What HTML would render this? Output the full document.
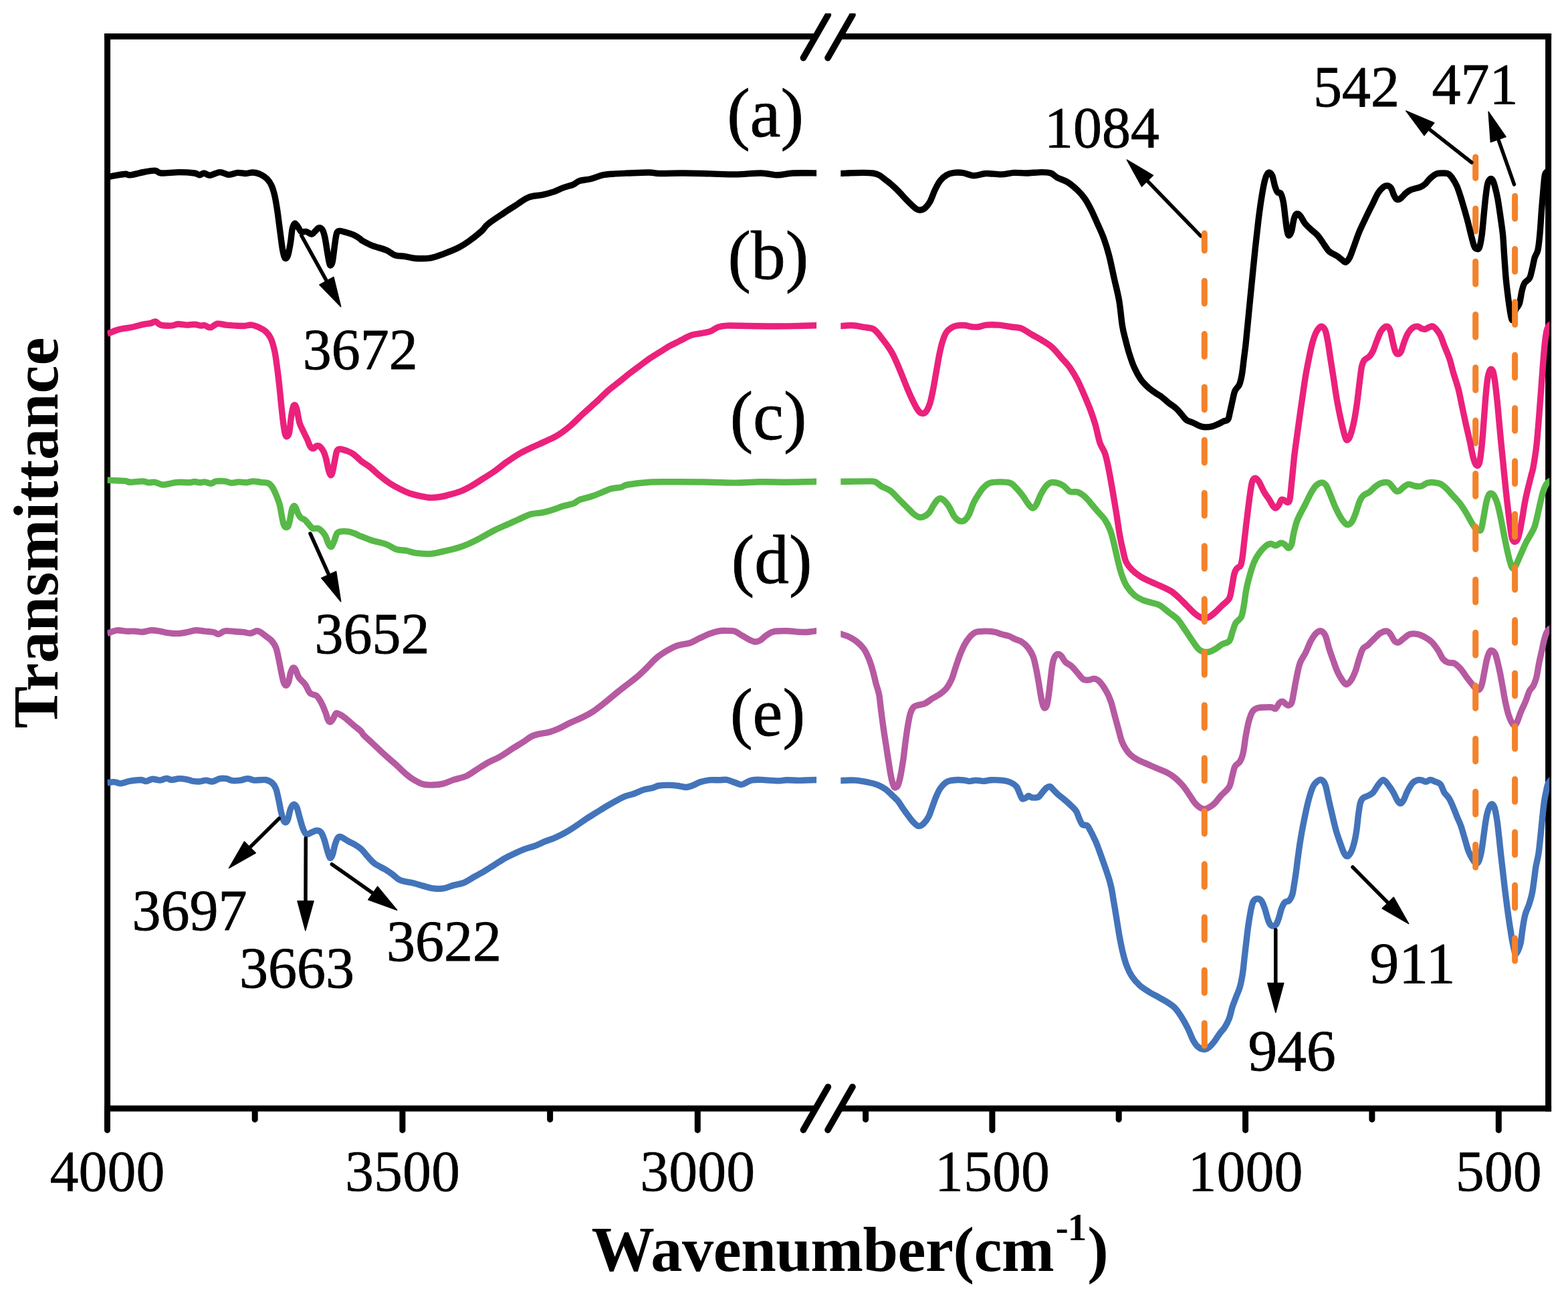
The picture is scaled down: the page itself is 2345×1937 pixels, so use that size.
<!DOCTYPE html>
<html lang="en"><head><meta charset="utf-8"><title>FTIR spectra</title>
<style>html,body{margin:0;padding:0;background:#fff;}body{width:2345px;height:1937px;overflow:hidden;}svg{display:block;}text{font-family:"Liberation Serif","Times New Roman",serif;fill:#000;stroke:#000;stroke-width:0.8px;stroke-linejoin:round;}.tk{text-anchor:middle;stroke-width:0.5px;}.an{text-anchor:middle;}.ti{font-weight:bold;text-anchor:middle;}</style></head><body>
<svg xmlns="http://www.w3.org/2000/svg" width="2345" height="1937" viewBox="0 0 2345 1937">
<defs><clipPath id="cl"><rect x="160.5" y="50" width="1060.6" height="1612"/></clipPath><clipPath id="cr"><rect x="1257.3" y="50" width="1059.9" height="1612"/></clipPath></defs>
<rect x="0" y="0" width="2345" height="1937" fill="#ffffff"/>
<g stroke="#000" stroke-width="9.0" fill="none">
<line x1="160.6" y1="49.9" x2="160.6" y2="1662.4"/>
<line x1="2315.6" y1="49.9" x2="2315.6" y2="1662.4"/>
<line x1="156.1" y1="54.4" x2="1218" y2="54.4"/>
<line x1="1258" y1="54.4" x2="2320.1" y2="54.4"/>
<line x1="156.1" y1="1657.9" x2="1218" y2="1657.9"/>
<line x1="1258" y1="1657.9" x2="2320.1" y2="1657.9"/>
</g>
<g stroke="#000" stroke-width="9.6" stroke-linecap="round" fill="none">
<line x1="1201.4" y1="86.6" x2="1238.4" y2="22.2"/>
<line x1="1238.0" y1="86.6" x2="1275.0" y2="22.2"/>
<line x1="1201.4" y1="1690.1" x2="1238.4" y2="1625.7"/>
<line x1="1238.0" y1="1690.1" x2="1275.0" y2="1625.7"/>
</g>
<rect x="1100" y="0" width="300" height="20" fill="#fff"/>
<g stroke="#000" stroke-width="9" stroke-linecap="round" fill="none">
<line x1="160.5" y1="1659.4" x2="160.5" y2="1690.4"/>
<line x1="601.9" y1="1659.4" x2="601.9" y2="1690.4"/>
<line x1="1043.3" y1="1659.4" x2="1043.3" y2="1690.4"/>
<line x1="1483.9" y1="1659.4" x2="1483.9" y2="1690.4"/>
<line x1="1862.6" y1="1659.4" x2="1862.6" y2="1690.4"/>
<line x1="2241.3" y1="1659.4" x2="2241.3" y2="1690.4"/>
<line x1="381.2" y1="1659.4" x2="381.2" y2="1674.4"/>
<line x1="822.6" y1="1659.4" x2="822.6" y2="1674.4"/>
<line x1="1294.6" y1="1659.4" x2="1294.6" y2="1674.4"/>
<line x1="1673.2" y1="1659.4" x2="1673.2" y2="1674.4"/>
<line x1="2051.9" y1="1659.4" x2="2051.9" y2="1674.4"/>
</g>
<g fill="none" stroke-linejoin="round" stroke-linecap="butt" stroke-width="9.4" stroke="#4374ba">
<path clip-path="url(#cl)" d="M160.5,1170.9C162.2,1170.7 167.6,1169.4 170.9,1169.6C174.3,1169.7 176.6,1172.1 180.4,1171.9C184.3,1171.7 188.7,1169.3 193.8,1168.4C198.8,1167.6 206.8,1166.5 210.9,1166.5C215.0,1166.6 215.7,1168.9 218.5,1168.6C221.4,1168.4 224.5,1165.5 228.0,1165.2C231.5,1165.0 235.9,1167.3 239.4,1167.1C242.9,1166.9 246.1,1164.3 249.0,1164.3C251.8,1164.2 253.4,1166.5 256.6,1166.5C259.7,1166.6 264.2,1164.8 268.0,1164.6C271.8,1164.5 276.2,1165.2 279.4,1165.8C282.6,1166.3 283.8,1167.5 287.0,1168.1C290.2,1168.6 294.9,1169.2 298.4,1169.0C301.9,1168.9 304.8,1167.1 307.9,1167.1C311.1,1167.1 314.0,1169.4 317.5,1169.0C320.9,1168.6 325.4,1165.4 328.9,1164.6C332.4,1163.9 335.2,1164.1 338.4,1164.6C341.6,1165.1 344.4,1167.3 347.9,1167.7C351.4,1168.1 355.5,1167.6 359.3,1167.1C363.1,1166.6 367.3,1164.6 370.7,1164.6C374.2,1164.6 375.8,1166.8 380.3,1167.1C384.7,1167.4 392.9,1165.9 397.4,1166.5C401.8,1167.2 404.4,1168.8 406.9,1170.9C409.4,1173.1 411.0,1175.5 412.6,1179.5C414.2,1183.4 415.1,1189.0 416.4,1194.7C417.7,1200.4 419.0,1208.3 420.2,1213.7C421.5,1219.1 422.8,1224.4 424.0,1227.1C425.2,1229.7 426.3,1230.2 427.5,1229.9C428.6,1229.6 429.5,1228.5 430.7,1225.1C431.9,1221.8 433.1,1213.6 434.5,1209.9C435.9,1206.3 437.7,1203.6 439.2,1203.3C440.8,1202.9 442.4,1204.4 444.0,1208.0C445.6,1211.7 447.2,1219.8 448.8,1225.1C450.3,1230.5 451.9,1236.6 453.5,1240.4C455.1,1244.2 456.2,1247.2 458.3,1248.0C460.3,1248.8 463.4,1246.1 465.9,1245.1C468.4,1244.2 471.1,1242.3 473.5,1242.3C475.9,1242.3 478.3,1242.9 480.2,1245.1C482.1,1247.3 483.3,1251.0 484.9,1255.6C486.5,1260.2 488.2,1268.1 489.7,1272.7C491.1,1277.3 492.2,1282.2 493.5,1283.2C494.8,1284.1 496.0,1281.8 497.3,1278.4C498.6,1275.1 499.8,1267.3 501.1,1263.2C502.4,1259.1 503.5,1255.6 504.9,1253.7C506.3,1251.8 507.0,1251.0 509.7,1251.8C512.4,1252.6 517.6,1256.5 521.1,1258.4C524.6,1260.4 527.4,1261.3 530.6,1263.2C533.8,1265.1 536.7,1266.7 540.1,1269.9C543.5,1273.0 547.5,1278.6 550.9,1282.2C554.3,1285.9 556.3,1288.7 560.4,1291.8C564.6,1294.8 571.2,1297.6 575.7,1300.3C580.1,1303.0 583.3,1305.2 587.1,1307.9C590.9,1310.6 593.7,1314.4 598.5,1316.5C603.3,1318.6 609.9,1318.9 615.6,1320.3C621.3,1321.7 627.4,1323.6 632.8,1325.1C638.2,1326.5 642.9,1328.2 648.0,1328.9C653.1,1329.5 658.1,1329.7 663.2,1328.9C668.3,1328.1 673.4,1325.5 678.4,1324.1C683.5,1322.7 688.6,1322.4 693.7,1320.3C698.7,1318.2 703.8,1314.6 708.9,1311.7C714.0,1308.9 719.0,1306.2 724.1,1303.2C729.2,1300.2 734.2,1296.8 739.3,1293.7C744.4,1290.5 749.5,1287.0 754.5,1284.1C759.6,1281.3 764.7,1278.9 769.8,1276.5C774.8,1274.1 779.9,1271.8 785.0,1269.9C790.1,1268.0 795.1,1267.0 800.2,1265.1C805.3,1263.2 810.4,1260.5 815.4,1258.4C820.5,1256.4 825.6,1255.0 830.7,1252.7C835.7,1250.5 840.8,1248.0 845.9,1245.1C851.0,1242.3 856.0,1238.9 861.1,1235.6C866.2,1232.3 871.3,1228.5 876.3,1225.1C881.4,1221.8 886.5,1218.8 891.6,1215.6C896.6,1212.5 901.8,1209.1 906.8,1206.1C911.8,1203.1 916.8,1200.3 921.4,1197.8C926.1,1195.3 930.3,1192.9 934.7,1191.2C939.2,1189.4 943.6,1188.9 948.1,1187.3C952.5,1185.8 956.9,1183.1 961.4,1181.6C965.8,1180.2 970.6,1179.9 974.7,1178.8C978.8,1177.7 981.7,1175.7 986.1,1175.0C990.6,1174.2 996.6,1174.3 1001.3,1174.4C1006.1,1174.5 1010.5,1175.0 1014.7,1175.5C1018.8,1176.1 1022.6,1177.5 1026.1,1177.5C1029.6,1177.4 1032.1,1176.2 1035.6,1175.0C1039.1,1173.7 1042.9,1171.2 1047.0,1169.8C1051.1,1168.5 1055.6,1167.3 1060.3,1166.8C1065.1,1166.3 1071.1,1166.9 1075.6,1166.8C1080.0,1166.7 1083.2,1165.8 1087.0,1166.4C1090.8,1167.0 1094.7,1169.0 1098.4,1170.2C1102.0,1171.4 1105.7,1173.7 1108.9,1173.6C1112.0,1173.6 1114.7,1171.0 1117.4,1169.8C1120.1,1168.7 1121.5,1167.4 1125.0,1166.8C1128.5,1166.2 1132.0,1166.2 1138.4,1166.4C1144.7,1166.6 1156.7,1167.9 1163.1,1167.9C1169.4,1168.0 1171.0,1166.9 1176.4,1166.8C1181.8,1166.7 1187.2,1167.4 1195.4,1167.4C1203.7,1167.3 1220.8,1166.6 1225.9,1166.4"/>
<path clip-path="url(#cr)" d="M1253.8,1167.7C1257.9,1167.6 1271.2,1166.7 1278.5,1167.1C1285.8,1167.5 1291.9,1168.8 1297.6,1170.0C1303.3,1171.1 1308.4,1172.4 1312.8,1174.1C1317.2,1175.9 1320.7,1178.0 1324.2,1180.4C1327.7,1182.9 1330.6,1186.0 1333.7,1189.0C1336.9,1192.0 1340.4,1195.0 1343.2,1198.5C1346.1,1202.0 1348.3,1206.3 1350.9,1209.9C1353.4,1213.6 1355.9,1217.1 1358.5,1220.4C1361.0,1223.7 1363.5,1227.4 1366.1,1229.9C1368.6,1232.4 1371.2,1235.3 1373.7,1235.6C1376.2,1235.9 1378.8,1234.2 1381.3,1231.8C1383.8,1229.4 1386.7,1225.6 1388.9,1221.3C1391.1,1217.1 1392.7,1211.2 1394.6,1206.1C1396.5,1201.0 1398.4,1195.3 1400.3,1190.9C1402.2,1186.5 1403.8,1182.8 1406.0,1179.5C1408.3,1176.1 1411.1,1172.9 1413.7,1170.9C1416.2,1168.9 1418.1,1168.4 1421.3,1167.7C1424.4,1166.9 1429.2,1166.6 1432.7,1166.5C1436.2,1166.4 1439.3,1166.8 1442.2,1167.1C1445.1,1167.5 1447.0,1168.6 1449.8,1168.6C1452.7,1168.6 1455.8,1167.1 1459.3,1167.1C1462.8,1167.1 1466.9,1168.5 1470.7,1168.4C1474.5,1168.4 1477.7,1166.9 1482.2,1166.7C1486.6,1166.5 1492.6,1166.6 1497.4,1167.1C1502.1,1167.6 1506.9,1168.4 1510.7,1170.0C1514.5,1171.5 1517.8,1173.8 1520.2,1176.6C1522.6,1179.5 1523.5,1184.1 1525.0,1187.1C1526.4,1190.1 1527.4,1193.6 1528.8,1194.7C1530.2,1195.8 1532.0,1194.4 1533.5,1193.7C1535.1,1193.1 1536.7,1190.7 1538.3,1190.5C1539.9,1190.4 1540.7,1192.5 1543.1,1192.8C1545.4,1193.1 1550.0,1193.5 1552.6,1192.4C1555.1,1191.3 1556.2,1188.5 1558.3,1186.1C1560.3,1183.8 1562.9,1180.1 1564.9,1178.5C1567.0,1176.9 1568.9,1176.1 1570.6,1176.6C1572.4,1177.1 1573.3,1179.3 1575.4,1181.4C1577.5,1183.4 1580.2,1186.5 1583.0,1189.0C1585.9,1191.5 1589.4,1193.9 1592.5,1196.6C1595.7,1199.3 1599.2,1202.3 1602.0,1205.2C1604.9,1208.0 1607.6,1210.4 1609.7,1213.7C1611.7,1217.1 1612.8,1221.8 1614.4,1225.1C1616.0,1228.5 1617.3,1232.1 1619.2,1233.7C1621.1,1235.3 1623.9,1233.2 1625.8,1234.7C1627.7,1236.1 1628.8,1239.1 1630.6,1242.3C1632.3,1245.4 1634.4,1249.6 1636.3,1253.7C1638.2,1257.8 1638.1,1256.4 1642.0,1267.0C1645.9,1277.7 1655.6,1304.4 1659.5,1317.6C1663.4,1330.8 1663.5,1336.6 1665.2,1346.1C1666.9,1355.6 1668.4,1365.1 1670.0,1374.7C1671.5,1384.2 1673.1,1394.6 1674.7,1403.2C1676.3,1411.8 1677.7,1419.1 1679.5,1426.0C1681.2,1433.0 1683.0,1439.4 1685.2,1445.1C1687.4,1450.8 1689.6,1455.5 1692.8,1460.3C1696.0,1465.1 1700.1,1469.8 1704.2,1473.6C1708.3,1477.4 1712.8,1480.1 1717.5,1483.1C1722.3,1486.1 1728.0,1489.0 1732.8,1491.7C1737.5,1494.4 1742.0,1496.6 1746.1,1499.3C1750.2,1502.0 1754.0,1504.2 1757.5,1507.9C1761.0,1511.5 1763.8,1516.1 1767.0,1521.2C1770.2,1526.3 1773.7,1532.6 1776.5,1538.3C1779.4,1544.0 1781.6,1550.8 1784.1,1555.4C1786.7,1560.0 1788.9,1563.5 1791.8,1565.9C1794.6,1568.3 1798.4,1569.7 1801.3,1569.7C1804.1,1569.7 1806.3,1568.0 1808.9,1565.9C1811.4,1563.8 1814.0,1560.7 1816.5,1557.3C1819.0,1554.0 1821.6,1549.4 1824.1,1545.9C1826.6,1542.4 1829.3,1540.2 1831.7,1536.4C1834.1,1532.6 1836.5,1528.2 1838.4,1523.1C1840.3,1518.0 1841.4,1511.4 1843.1,1506.0C1844.9,1500.6 1846.9,1495.8 1848.8,1490.7C1850.7,1485.7 1853.0,1481.2 1854.5,1475.5C1856.1,1469.8 1857.2,1463.8 1858.4,1456.5C1859.5,1449.2 1860.3,1440.0 1861.2,1431.8C1862.2,1423.5 1863.1,1414.9 1864.1,1407.0C1865.0,1399.1 1865.8,1391.8 1866.9,1384.2C1868.0,1376.6 1869.5,1367.4 1870.7,1361.3C1872.0,1355.3 1872.8,1350.9 1874.5,1348.0C1876.3,1345.2 1879.1,1344.2 1881.2,1344.2C1883.3,1344.2 1885.2,1345.5 1886.9,1348.0C1888.6,1350.6 1890.2,1355.3 1891.7,1359.4C1893.1,1363.6 1894.2,1369.0 1895.5,1372.8C1896.7,1376.6 1897.8,1380.2 1899.3,1382.3C1900.7,1384.3 1902.4,1385.1 1904.0,1385.1C1905.6,1385.1 1907.4,1384.3 1908.8,1382.3C1910.2,1380.2 1911.3,1376.6 1912.6,1372.8C1913.9,1369.0 1915.0,1363.2 1916.4,1359.4C1917.8,1355.6 1919.2,1352.0 1921.2,1349.9C1923.1,1347.9 1925.9,1349.0 1927.8,1347.1C1929.7,1345.2 1931.3,1342.5 1932.6,1338.5C1933.8,1334.5 1934.5,1329.0 1935.4,1323.3C1936.4,1317.6 1937.3,1311.3 1938.3,1304.3C1939.3,1297.2 1940.2,1288.9 1941.3,1281.0C1942.4,1273.1 1943.3,1265.7 1944.8,1256.9C1946.2,1248.1 1948.1,1237.9 1950.0,1228.4C1951.9,1218.9 1954.0,1208.4 1956.2,1199.8C1958.4,1191.2 1961.2,1182.1 1963.4,1177.0C1965.7,1171.9 1967.6,1170.8 1969.7,1169.0C1971.8,1167.2 1974.2,1165.7 1976.3,1166.5C1978.4,1167.3 1980.3,1169.3 1982.1,1174.1C1983.9,1178.8 1985.1,1187.4 1986.9,1195.0C1988.6,1202.6 1990.7,1211.8 1992.6,1219.7C1994.5,1227.7 1996.4,1236.1 1998.3,1242.8C2000.2,1249.5 2002.1,1254.5 2004.0,1259.9C2005.9,1265.3 2008.0,1271.7 2009.7,1275.1C2011.4,1278.6 2012.7,1280.9 2014.5,1280.9C2016.2,1280.9 2018.4,1278.3 2020.2,1275.1C2021.9,1272.0 2023.5,1267.2 2024.9,1261.8C2026.4,1256.4 2027.6,1250.1 2028.7,1242.8C2029.8,1235.5 2030.6,1225.0 2031.6,1218.1C2032.5,1211.1 2033.3,1204.9 2034.4,1200.9C2035.5,1196.9 2036.3,1195.8 2038.2,1194.0C2040.1,1192.3 2043.3,1191.7 2045.9,1190.2C2048.4,1188.8 2050.9,1188.2 2053.5,1185.5C2056.0,1182.8 2058.5,1177.2 2061.1,1174.1C2063.6,1170.9 2066.2,1166.5 2068.7,1166.5C2071.2,1166.5 2073.8,1170.9 2076.3,1174.1C2078.8,1177.2 2081.7,1181.7 2083.9,1185.5C2086.1,1189.3 2087.9,1194.2 2089.6,1196.9C2091.4,1199.6 2092.8,1201.7 2094.4,1201.7C2096.0,1201.7 2097.4,1199.9 2099.1,1196.9C2100.9,1193.9 2102.6,1187.9 2104.8,1183.6C2107.1,1179.3 2109.9,1174.0 2112.5,1171.2C2115.0,1168.4 2117.9,1167.6 2120.1,1166.8C2122.3,1166.1 2123.7,1166.4 2125.8,1166.8C2127.8,1167.2 2130.2,1169.4 2132.4,1169.3C2134.7,1169.2 2136.7,1166.5 2139.1,1166.5C2141.5,1166.5 2144.2,1168.2 2146.7,1169.3C2149.2,1170.4 2152.1,1170.4 2154.3,1173.1C2156.5,1175.8 2157.8,1181.8 2160.0,1185.5C2162.3,1189.1 2165.1,1190.6 2167.6,1195.0C2170.2,1199.4 2173.4,1207.6 2175.3,1212.1C2177.2,1216.6 2177.5,1218.0 2179.1,1221.9C2180.6,1225.7 2182.9,1229.8 2184.8,1235.2C2186.7,1240.6 2188.6,1247.9 2190.5,1254.2C2192.4,1260.6 2194.3,1268.2 2196.2,1273.2C2198.1,1278.3 2200.0,1281.6 2201.9,1284.7C2203.8,1287.7 2206.0,1290.7 2207.6,1291.3C2209.2,1292.0 2210.1,1291.2 2211.4,1288.5C2212.7,1285.8 2214.1,1280.5 2215.2,1275.1C2216.3,1269.8 2217.1,1262.8 2218.1,1256.1C2219.0,1249.5 2220.0,1241.5 2220.9,1235.2C2221.9,1228.8 2222.7,1222.8 2223.8,1218.1C2224.9,1213.3 2226.3,1209.2 2227.6,1206.6C2228.9,1204.1 2230.1,1202.5 2231.4,1202.8C2232.7,1203.2 2233.9,1204.4 2235.2,1208.5C2236.5,1212.7 2237.9,1220.3 2239.0,1227.6C2240.1,1234.9 2240.9,1243.7 2241.9,1252.3C2242.8,1260.9 2243.8,1270.4 2244.7,1279.0C2245.7,1287.5 2246.6,1295.4 2247.6,1303.7C2248.5,1311.9 2249.5,1320.5 2250.4,1328.4C2251.4,1336.4 2252.3,1344.0 2253.3,1351.3C2254.2,1358.6 2255.2,1365.5 2256.1,1372.2C2257.1,1378.9 2258.0,1385.2 2259.0,1391.2C2259.9,1397.3 2260.9,1403.3 2261.8,1408.4C2262.8,1413.4 2263.9,1418.5 2264.7,1421.7C2265.5,1424.8 2265.6,1427.4 2266.6,1427.4C2267.5,1427.4 2269.1,1424.5 2270.4,1421.7C2271.7,1418.8 2273.1,1415.6 2274.2,1410.3C2275.3,1404.9 2276.0,1396.3 2277.1,1389.3C2278.2,1382.3 2279.3,1374.4 2280.9,1368.4C2282.5,1362.4 2284.8,1358.6 2286.6,1353.2C2288.3,1347.8 2290.1,1342.1 2291.3,1336.0C2292.6,1330.0 2293.2,1323.7 2294.2,1317.0C2295.1,1310.4 2295.9,1302.7 2297.0,1296.1C2298.2,1289.4 2299.7,1284.3 2300.9,1277.1C2302.0,1269.8 2302.8,1261.2 2303.7,1252.3C2304.7,1243.4 2305.6,1232.6 2306.6,1223.8C2307.5,1214.9 2308.5,1205.7 2309.4,1199.0C2310.4,1192.4 2311.3,1188.2 2312.3,1183.8C2313.2,1179.4 2313.7,1175.6 2315.1,1172.4C2316.6,1169.2 2319.9,1166.0 2320.8,1164.8"/>
</g>
<g fill="none" stroke-linejoin="round" stroke-linecap="butt" stroke-width="9.4" stroke="#b65aa2">
<path clip-path="url(#cl)" d="M160.5,947.6C162.8,946.8 170.1,943.4 174.7,942.8C179.3,942.2 183.6,943.9 188.1,944.1C192.5,944.4 197.3,944.0 201.4,944.1C205.5,944.3 208.7,945.5 212.8,945.3C216.9,945.1 221.7,943.0 226.1,942.8C230.6,942.6 235.3,943.5 239.4,944.1C243.6,944.8 246.4,946.1 250.9,946.6C255.3,947.2 261.3,947.7 266.1,947.6C270.8,947.4 275.0,946.5 279.4,945.7C283.8,944.9 288.3,943.1 292.7,942.8C297.2,942.6 301.6,943.7 306.0,944.1C310.5,944.6 315.9,944.9 319.4,945.7C322.9,946.4 324.1,948.8 327.0,948.5C329.8,948.2 332.4,944.4 336.5,943.8C340.6,943.1 347.3,944.5 351.7,944.7C356.2,945.0 359.3,944.9 363.1,945.3C366.9,945.7 371.1,947.4 374.5,947.2C378.0,946.9 381.5,944.0 384.1,943.8C386.6,943.5 387.6,944.4 389.8,945.7C392.0,946.9 394.7,949.3 397.4,951.4C400.1,953.4 403.4,955.2 405.9,958.0C408.5,960.9 410.9,964.2 412.6,968.5C414.4,972.8 415.1,978.0 416.4,983.7C417.7,989.4 419.0,996.7 420.2,1002.8C421.5,1008.8 422.8,1016.1 424.0,1019.9C425.2,1023.6 426.2,1025.2 427.5,1025.2C428.7,1025.2 430.5,1023.0 431.6,1019.9C432.8,1016.8 433.4,1010.1 434.5,1006.6C435.6,1003.1 437.0,999.7 438.3,999.0C439.6,998.2 440.7,999.4 442.1,1001.8C443.5,1004.2 444.5,1009.6 446.9,1013.2C449.2,1016.9 453.5,1019.7 456.4,1023.7C459.2,1027.7 461.1,1034.2 464.0,1037.0C466.8,1039.9 470.6,1038.3 473.5,1040.8C476.4,1043.4 478.9,1048.1 481.1,1052.2C483.3,1056.4 485.2,1061.4 486.8,1065.6C488.4,1069.7 489.4,1074.6 490.6,1077.0C491.9,1079.4 493.2,1080.1 494.4,1079.8C495.7,1079.5 497.0,1077.1 498.2,1075.1C499.5,1073.0 500.8,1068.7 502.0,1067.5C503.3,1066.2 503.6,1066.5 505.9,1067.5C508.1,1068.4 511.6,1070.3 515.4,1073.2C519.2,1076.0 524.6,1081.1 528.7,1084.6C532.8,1088.1 537.7,1091.7 540.1,1094.1C542.5,1096.5 540.2,1095.7 543.3,1098.9C546.4,1102.0 553.2,1108.1 558.5,1113.1C563.9,1118.2 570.3,1124.4 575.7,1129.3C581.1,1134.2 585.8,1138.0 590.9,1142.6C596.0,1147.2 601.7,1153.1 606.1,1156.9C610.6,1160.7 613.1,1162.8 617.5,1165.5C622.0,1168.2 627.7,1171.6 632.8,1173.1C637.8,1174.5 642.9,1174.2 648.0,1174.0C653.1,1173.9 658.1,1173.4 663.2,1172.1C668.3,1170.9 672.7,1168.3 678.4,1166.4C684.1,1164.5 691.8,1163.2 697.5,1160.7C703.2,1158.2 707.3,1154.5 712.7,1151.2C718.1,1147.9 723.8,1144.1 729.8,1140.7C735.8,1137.4 742.5,1134.9 748.8,1131.2C755.2,1127.6 762.2,1122.5 767.9,1118.8C773.6,1115.2 778.7,1112.2 783.1,1109.3C787.5,1106.5 790.7,1103.6 794.5,1101.7C798.3,1099.8 801.5,1099.0 805.9,1097.9C810.4,1096.8 816.4,1096.3 821.2,1095.1C825.9,1093.8 829.1,1092.7 834.5,1090.3C839.9,1087.9 847.2,1083.8 853.5,1080.8C859.8,1077.8 866.8,1075.1 872.5,1072.2C878.2,1069.4 882.7,1067.0 887.8,1063.7C892.8,1060.3 897.4,1056.7 903.0,1052.2C908.6,1047.8 916.1,1041.3 921.4,1037.0C926.7,1032.7 929.7,1030.5 934.7,1026.5C939.8,1022.6 946.5,1017.8 951.9,1013.2C957.3,1008.6 962.0,1003.9 967.1,999.0C972.2,994.0 977.2,988.0 982.3,983.7C987.4,979.4 992.5,976.3 997.5,973.3C1002.6,970.3 1007.1,967.6 1012.8,965.7C1018.5,963.7 1026.1,963.7 1031.8,961.8C1037.5,959.9 1041.9,956.6 1047.0,954.2C1052.1,951.9 1057.5,949.3 1062.2,947.6C1067.0,945.8 1071.4,944.5 1075.6,943.8C1079.7,943.1 1083.2,943.3 1087.0,943.4C1090.8,943.5 1094.9,943.1 1098.4,944.1C1101.9,945.2 1104.4,947.5 1107.9,949.5C1111.4,951.5 1115.8,954.4 1119.3,956.1C1122.8,957.9 1126.0,959.6 1128.8,959.9C1131.7,960.3 1133.6,959.6 1136.5,958.0C1139.3,956.5 1142.5,952.6 1146.0,950.4C1149.5,948.2 1152.3,945.8 1157.4,944.7C1162.5,943.6 1170.1,943.7 1176.4,943.8C1182.8,943.9 1190.1,945.0 1195.4,945.3C1200.8,945.5 1203.7,945.7 1208.8,945.3C1213.8,944.9 1223.0,943.4 1225.9,943.0"/>
<path clip-path="url(#cr)" d="M1253.8,947.2C1256.3,948.0 1264.6,950.4 1269.0,952.3C1273.5,954.3 1276.6,956.0 1280.4,959.0C1284.3,962.0 1288.7,966.0 1291.9,970.4C1295.0,974.8 1297.3,980.2 1299.5,985.6C1301.7,991.0 1303.4,996.7 1305.2,1002.8C1306.9,1008.8 1308.4,1015.8 1309.9,1021.8C1311.5,1027.8 1313.4,1032.3 1314.7,1038.9C1316.0,1045.6 1316.4,1053.2 1317.6,1061.8C1318.7,1070.3 1320.1,1081.4 1321.4,1090.3C1322.6,1099.2 1323.9,1106.8 1325.2,1115.0C1326.4,1123.3 1327.7,1131.8 1329.0,1139.8C1330.2,1147.7 1331.5,1156.6 1332.8,1162.6C1334.0,1168.6 1335.5,1173.4 1336.6,1175.9C1337.7,1178.5 1338.3,1178.1 1339.4,1177.8C1340.5,1177.5 1342.0,1177.2 1343.2,1174.0C1344.5,1170.9 1345.8,1165.1 1347.1,1158.8C1348.3,1152.5 1349.7,1143.6 1350.9,1136.0C1352.0,1128.4 1352.6,1121.4 1353.7,1113.1C1354.8,1104.9 1356.2,1094.1 1357.5,1086.5C1358.8,1078.9 1359.9,1072.2 1361.3,1067.5C1362.7,1062.7 1364.3,1060.0 1366.1,1057.9C1367.8,1055.9 1368.9,1056.0 1371.8,1055.1C1374.6,1054.1 1379.4,1054.0 1383.2,1052.2C1387.0,1050.5 1390.8,1047.0 1394.6,1044.6C1398.4,1042.2 1402.6,1040.5 1406.0,1038.0C1409.5,1035.4 1412.7,1033.0 1415.6,1029.4C1418.4,1025.8 1420.9,1021.2 1423.2,1016.1C1425.4,1011.0 1426.8,1005.0 1428.9,999.0C1430.9,992.9 1433.3,985.6 1435.5,979.9C1437.8,974.2 1439.8,969.1 1442.2,964.7C1444.6,960.3 1447.0,956.5 1449.8,953.3C1452.7,950.1 1455.2,947.2 1459.3,945.7C1463.4,944.1 1469.8,944.2 1474.5,944.1C1479.3,944.1 1484.1,944.6 1487.9,945.3C1491.7,946.0 1493.9,947.5 1497.4,948.5C1500.9,949.5 1505.3,950.1 1508.8,951.4C1512.3,952.6 1515.1,954.7 1518.3,956.1C1521.5,957.6 1524.7,957.9 1527.8,959.9C1531.0,962.0 1534.5,964.9 1537.3,968.5C1540.2,972.2 1542.9,976.4 1545.0,981.8C1547.0,987.2 1548.3,994.2 1549.7,1000.9C1551.1,1007.5 1552.3,1014.5 1553.5,1021.8C1554.8,1029.1 1556.2,1038.9 1557.3,1044.6C1558.4,1050.3 1559.2,1053.7 1560.2,1056.0C1561.1,1058.4 1562.1,1059.2 1563.0,1058.9C1564.0,1058.6 1564.9,1057.8 1565.9,1054.1C1566.8,1050.5 1567.8,1044.0 1568.7,1037.0C1569.7,1030.0 1570.6,1019.9 1571.6,1012.3C1572.5,1004.7 1573.3,996.6 1574.5,991.3C1575.6,986.1 1576.8,983.0 1578.3,980.9C1579.7,978.7 1581.4,978.2 1583.0,978.4C1584.6,978.6 1586.0,979.8 1587.8,981.8C1589.5,983.8 1591.1,988.0 1593.5,990.4C1595.9,992.8 1599.0,993.4 1602.0,996.1C1605.1,998.8 1608.5,1003.2 1611.6,1006.6C1614.6,1009.9 1617.3,1014.3 1620.1,1016.1C1623.0,1017.8 1626.0,1017.2 1628.7,1017.0C1631.4,1016.9 1633.8,1014.8 1636.3,1015.1C1638.8,1015.4 1640.8,1015.8 1643.9,1018.9C1647.0,1022.1 1651.8,1029.1 1654.7,1034.2C1657.7,1039.3 1659.3,1043.4 1661.4,1049.4C1663.5,1055.4 1665.2,1063.4 1667.1,1070.3C1669.0,1077.3 1671.1,1084.9 1672.8,1091.3C1674.6,1097.6 1675.8,1103.6 1677.6,1108.4C1679.3,1113.1 1681.1,1116.3 1683.3,1119.8C1685.5,1123.3 1687.7,1126.5 1690.9,1129.3C1694.1,1132.2 1697.9,1134.6 1702.3,1136.9C1706.8,1139.3 1712.5,1141.4 1717.5,1143.6C1722.6,1145.8 1728.0,1148.2 1732.8,1150.3C1737.5,1152.3 1742.0,1153.7 1746.1,1156.0C1750.2,1158.2 1753.7,1160.4 1757.5,1163.6C1761.3,1166.7 1765.4,1170.9 1768.9,1175.0C1772.4,1179.1 1775.6,1184.2 1778.4,1188.3C1781.3,1192.4 1783.5,1196.6 1786.0,1199.7C1788.6,1202.9 1791.1,1205.6 1793.7,1207.3C1796.2,1209.1 1798.7,1210.2 1801.3,1210.2C1803.8,1210.2 1806.3,1208.8 1808.9,1207.3C1811.4,1205.9 1813.6,1204.5 1816.5,1201.6C1819.3,1198.8 1822.4,1194.3 1826.0,1190.2C1829.7,1186.1 1835.5,1182.0 1838.4,1176.9C1841.2,1171.8 1841.7,1164.8 1843.1,1159.8C1844.6,1154.7 1845.0,1149.9 1846.9,1146.5C1848.8,1143.0 1852.5,1142.3 1854.5,1138.8C1856.6,1135.4 1857.9,1131.9 1859.3,1125.5C1860.7,1119.2 1861.7,1108.7 1863.1,1100.8C1864.5,1092.9 1866.1,1084.1 1867.9,1077.9C1869.6,1071.8 1871.4,1066.8 1873.6,1063.7C1875.8,1060.5 1878.0,1059.9 1881.2,1058.9C1884.4,1058.0 1889.1,1058.1 1892.6,1058.0C1896.1,1057.8 1899.6,1057.6 1902.1,1058.0C1904.7,1058.3 1905.9,1061.0 1907.8,1059.9C1909.7,1058.8 1911.8,1053.0 1913.5,1051.3C1915.3,1049.6 1916.7,1049.1 1918.3,1049.4C1919.9,1049.7 1921.6,1052.3 1923.1,1053.2C1924.5,1054.2 1925.4,1055.4 1926.9,1055.1C1928.3,1054.8 1930.3,1054.2 1931.6,1051.3C1932.9,1048.4 1933.4,1043.7 1934.5,1038.0C1935.6,1032.3 1936.7,1024.7 1938.3,1017.1C1939.9,1009.4 1941.6,999.1 1944.0,992.3C1946.4,985.5 1949.9,981.7 1952.6,976.2C1955.3,970.6 1957.7,963.8 1960.2,959.0C1962.8,954.3 1965.3,950.1 1967.8,947.6C1970.4,945.1 1973.1,943.3 1975.4,943.8C1977.8,944.3 1980.0,946.0 1982.1,950.5C1984.2,954.9 1985.8,963.9 1987.8,970.4C1989.9,976.9 1992.4,983.8 1994.5,989.5C1996.5,995.2 1998.0,999.9 2000.2,1004.7C2002.4,1009.5 2005.6,1014.8 2007.8,1018.0C2010.0,1021.2 2011.4,1023.7 2013.5,1023.7C2015.6,1023.7 2017.9,1021.2 2020.2,1018.0C2022.4,1014.8 2024.8,1010.1 2026.8,1004.7C2028.9,999.3 2030.6,991.4 2032.5,985.7C2034.4,980.0 2036.0,973.9 2038.2,970.4C2040.5,967.0 2043.0,967.3 2045.9,964.7C2048.7,962.2 2052.2,958.2 2055.4,955.2C2058.5,952.2 2061.7,948.5 2064.9,946.7C2068.1,944.8 2071.9,943.7 2074.4,944.2C2076.9,944.7 2078.2,947.0 2080.1,949.5C2082.0,952.0 2083.9,957.1 2085.8,959.0C2087.7,960.9 2089.3,961.6 2091.5,960.9C2093.7,960.3 2096.3,957.3 2099.1,955.2C2102.0,953.2 2105.2,949.7 2108.7,948.6C2112.1,947.5 2116.3,947.8 2120.1,948.6C2123.9,949.4 2128.0,951.4 2131.5,953.3C2135.0,955.2 2137.8,956.8 2141.0,960.0C2144.2,963.2 2147.7,968.1 2150.5,972.4C2153.4,976.6 2155.6,982.6 2158.1,985.7C2160.7,988.8 2162.9,989.9 2165.7,991.0C2168.6,992.1 2172.1,990.7 2175.3,992.3C2178.4,994.0 2181.6,997.2 2184.8,1000.9C2187.9,1004.5 2191.4,1010.4 2194.3,1014.2C2197.1,1018.0 2199.7,1021.0 2201.9,1023.7C2204.1,1026.4 2205.9,1029.1 2207.6,1030.4C2209.4,1031.7 2210.9,1032.5 2212.4,1031.3C2213.8,1030.2 2214.9,1028.2 2216.2,1023.7C2217.4,1019.3 2218.7,1011.0 2220.0,1004.7C2221.2,998.4 2222.5,990.6 2223.8,985.7C2225.1,980.8 2226.3,977.3 2227.6,975.2C2228.9,973.1 2230.0,972.8 2231.4,973.3C2232.8,973.8 2234.7,975.0 2236.2,978.1C2237.6,981.1 2238.7,986.3 2240.0,991.4C2241.2,996.5 2242.5,1002.2 2243.8,1008.5C2245.0,1014.8 2246.3,1022.5 2247.6,1029.4C2248.8,1036.4 2249.9,1043.7 2251.4,1050.4C2252.8,1057.0 2254.5,1064.3 2256.1,1069.4C2257.7,1074.5 2259.5,1078.3 2260.9,1080.8C2262.3,1083.4 2263.4,1084.6 2264.7,1084.6C2266.0,1084.6 2266.9,1084.0 2268.5,1080.8C2270.1,1077.6 2272.0,1071.0 2274.2,1065.6C2276.4,1060.2 2279.6,1053.9 2281.8,1048.5C2284.0,1043.1 2285.6,1037.1 2287.5,1033.2C2289.4,1029.4 2291.5,1029.1 2293.2,1025.6C2295.0,1022.1 2296.6,1018.0 2298.0,1012.3C2299.4,1006.6 2300.5,997.7 2301.8,991.4C2303.1,985.0 2304.3,980.0 2305.6,974.3C2306.9,968.5 2308.1,961.9 2309.4,957.1C2310.7,952.4 2312.0,948.4 2313.2,945.7C2314.5,943.0 2315.8,942.1 2317.0,941.0C2318.3,939.8 2320.2,939.4 2320.8,939.0"/>
</g>
<g fill="none" stroke-linejoin="round" stroke-linecap="butt" stroke-width="9.4" stroke="#57b947">
<path clip-path="url(#cl)" d="M160.5,718.0C163.5,718.2 173.9,718.8 178.5,719.0C183.1,719.2 185.4,719.0 188.1,719.4C190.8,719.8 190.6,721.2 194.7,721.3C198.8,721.4 208.2,719.8 212.8,719.9C217.4,720.0 219.1,721.6 222.3,721.8C225.5,722.1 228.3,720.7 231.8,721.3C235.3,721.8 239.1,724.8 243.2,725.1C247.4,725.3 252.4,723.4 256.6,722.8C260.7,722.2 263.5,721.4 268.0,721.3C272.4,721.1 279.4,722.0 283.2,721.8C287.0,721.7 288.3,720.5 290.8,720.5C293.4,720.5 295.9,721.8 298.4,721.8C301.0,721.9 303.2,720.7 306.0,720.9C308.9,721.1 312.7,723.3 315.6,723.2C318.4,723.0 319.7,720.5 323.2,719.9C326.7,719.4 332.7,719.5 336.5,719.9C340.3,720.4 342.5,722.3 346.0,722.4C349.5,722.6 353.6,721.0 357.4,720.9C361.2,720.8 365.4,722.0 368.8,721.8C372.3,721.7 374.9,720.0 378.4,719.9C381.8,719.8 386.0,720.8 389.8,721.3C393.6,721.8 398.2,721.4 401.2,722.8C404.2,724.2 405.8,726.3 407.8,729.5C409.9,732.6 411.8,737.5 413.6,741.8C415.3,746.1 417.0,750.4 418.3,755.1C419.6,759.9 420.2,765.6 421.2,770.4C422.1,775.1 423.1,780.7 424.0,783.7C425.0,786.7 425.8,787.8 426.9,788.4C428.0,789.1 429.6,789.2 430.7,787.5C431.8,785.8 432.6,782.1 433.5,778.0C434.5,773.9 435.4,766.2 436.4,762.8C437.3,759.3 438.3,757.7 439.2,757.1C440.2,756.4 441.0,757.1 442.1,759.0C443.2,760.9 444.6,765.9 445.9,768.5C447.2,771.0 448.0,772.6 449.7,774.2C451.5,775.8 454.3,776.2 456.4,778.0C458.4,779.7 460.2,782.6 462.1,784.6C464.0,786.7 465.6,789.4 467.8,790.4C470.0,791.3 473.2,789.7 475.4,790.4C477.6,791.0 479.2,792.3 481.1,794.2C483.0,796.1 485.2,798.8 486.8,801.8C488.4,804.8 489.5,809.7 490.6,812.2C491.7,814.8 492.5,816.2 493.5,817.0C494.4,817.8 495.2,818.4 496.3,817.0C497.4,815.6 498.9,811.6 500.1,808.4C501.4,805.3 502.5,800.2 503.9,798.0C505.4,795.7 505.9,795.6 508.7,795.1C511.6,794.6 517.4,794.6 521.1,795.1C524.7,795.6 527.7,796.9 530.6,798.0C533.4,799.1 536.4,801.0 538.2,801.8C540.0,802.6 538.3,801.6 541.4,802.7C544.5,803.8 550.6,806.5 556.6,808.4C562.7,810.3 571.5,811.9 577.6,814.1C583.6,816.4 587.7,820.2 592.8,821.8C597.9,823.3 603.3,822.8 608.0,823.7C612.8,824.5 615.3,826.3 621.3,827.1C627.4,827.9 637.2,828.8 644.2,828.4C651.2,828.0 656.2,826.2 663.2,824.6C670.2,823.0 679.7,820.8 686.0,818.9C692.4,817.0 695.6,815.7 701.3,813.2C707.0,810.7 714.0,807.0 720.3,803.7C726.6,800.3 733.0,796.4 739.3,793.2C745.7,790.0 752.3,787.3 758.4,784.6C764.4,781.9 769.8,779.6 775.5,777.0C781.2,774.5 786.6,771.2 792.6,769.4C798.6,767.7 805.6,767.8 811.6,766.6C817.7,765.3 823.7,763.4 828.8,761.8C833.8,760.2 837.3,758.5 842.1,757.1C846.8,755.6 853.2,754.8 857.3,753.2C861.4,751.7 862.4,749.3 866.8,747.5C871.3,745.8 878.2,744.7 883.9,742.8C889.7,740.9 896.1,738.1 901.1,736.1C906.1,734.2 909.1,732.3 913.8,731.0C918.5,729.8 924.9,729.8 929.0,728.8C933.2,727.7 931.6,726.2 938.5,725.0C945.5,723.7 959.8,721.8 970.9,721.2C982.0,720.5 989.9,720.8 1005.1,720.8C1020.4,720.8 1046.4,720.9 1062.2,721.2C1078.1,721.4 1087.6,722.2 1100.3,722.1C1113.0,722.0 1125.7,720.9 1138.4,720.8C1151.0,720.6 1161.8,721.2 1176.4,721.2C1191.0,721.1 1217.6,720.4 1225.9,720.2"/>
<path clip-path="url(#cr)" d="M1253.8,720.5C1262.1,720.4 1293.8,719.7 1303.3,719.9C1310.9,720.2 1308.4,720.6 1310.9,721.8C1313.4,723.1 1315.0,725.5 1318.5,727.6C1322.0,729.6 1327.4,730.9 1331.8,734.2C1336.3,737.5 1341.0,743.4 1345.1,747.5C1349.3,751.7 1353.1,755.5 1356.6,759.0C1360.1,762.4 1363.2,766.1 1366.1,768.5C1368.9,770.8 1371.3,772.4 1373.7,773.2C1376.1,774.0 1377.8,774.2 1380.4,773.2C1382.9,772.3 1386.2,770.5 1388.9,767.5C1391.6,764.5 1394.3,758.5 1396.5,755.1C1398.7,751.8 1400.5,749.1 1402.2,747.5C1404.0,745.9 1405.2,745.3 1407.0,745.6C1408.7,745.9 1410.6,747.4 1412.7,749.4C1414.8,751.5 1417.0,754.2 1419.4,758.0C1421.7,761.8 1424.8,768.9 1427.0,772.3C1429.2,775.6 1430.8,776.7 1432.7,778.0C1434.6,779.3 1436.5,780.0 1438.4,779.9C1440.3,779.7 1442.2,778.9 1444.1,777.0C1446.0,775.1 1447.9,772.4 1449.8,768.5C1451.7,764.5 1453.3,758.0 1455.5,753.2C1457.7,748.5 1460.6,743.9 1463.1,739.9C1465.7,736.0 1467.9,732.4 1470.7,729.5C1473.6,726.5 1476.1,723.8 1480.3,722.4C1484.4,721.0 1490.4,720.9 1495.5,720.9C1500.6,720.9 1506.6,720.8 1510.7,722.4C1514.8,724.0 1517.0,727.2 1520.2,730.4C1523.4,733.6 1526.9,738.0 1529.7,741.8C1532.6,745.6 1535.0,750.2 1537.3,753.2C1539.7,756.3 1541.9,759.6 1544.0,759.9C1546.1,760.2 1547.7,758.5 1549.7,755.1C1551.8,751.8 1554.0,744.5 1556.4,739.9C1558.8,735.3 1561.4,730.6 1564.0,727.6C1566.5,724.5 1568.7,722.7 1571.6,721.8C1574.5,721.0 1577.9,721.6 1581.1,722.4C1584.3,723.2 1587.5,724.5 1590.6,726.6C1593.8,728.7 1596.7,733.6 1600.1,735.2C1603.6,736.8 1608.1,735.0 1611.6,736.1C1615.0,737.2 1618.2,739.6 1621.1,741.8C1623.9,744.0 1627.2,747.9 1628.7,749.4C1630.0,751.0 1628.7,748.8 1630.0,751.3C1632.1,753.9 1637.6,760.2 1641.4,764.7C1645.2,769.1 1649.7,773.2 1652.8,778.0C1656.0,782.7 1658.2,787.2 1660.4,793.2C1662.7,799.2 1664.3,806.5 1666.2,814.1C1668.1,821.8 1670.0,831.3 1671.9,838.9C1673.8,846.5 1675.4,853.5 1677.6,859.8C1679.8,866.2 1682.0,871.9 1685.2,876.9C1688.4,882.0 1692.5,886.8 1696.6,890.3C1700.7,893.7 1705.5,896.0 1709.9,897.9C1714.4,899.8 1719.1,900.4 1723.2,901.7C1727.4,902.9 1730.5,903.1 1734.7,905.5C1738.8,907.9 1743.5,912.5 1748.0,915.9C1752.4,919.4 1757.5,922.4 1761.3,926.4C1765.1,930.4 1767.3,934.7 1770.8,939.7C1774.3,944.8 1778.7,951.8 1782.2,956.9C1785.7,961.9 1788.9,967.2 1791.8,970.2C1794.6,973.2 1796.5,974.1 1799.4,974.9C1802.2,975.7 1805.7,975.7 1808.9,974.9C1812.0,974.1 1815.2,972.1 1818.4,970.2C1821.6,968.3 1824.6,965.4 1827.9,963.5C1831.2,961.6 1835.8,961.8 1838.4,958.8C1840.9,955.8 1841.5,949.9 1843.1,945.4C1844.7,941.0 1845.7,935.9 1847.9,932.1C1850.1,928.3 1854.4,927.0 1856.5,922.6C1858.5,918.2 1859.0,912.5 1860.3,905.5C1861.5,898.5 1862.5,888.7 1864.1,880.7C1865.6,872.8 1867.9,864.6 1869.8,857.9C1871.7,851.2 1873.3,845.9 1875.5,840.8C1877.7,835.7 1880.2,831.4 1883.1,827.5C1885.9,823.5 1889.8,819.4 1892.6,817.0C1895.5,814.6 1897.7,813.3 1900.2,813.2C1902.8,813.0 1905.3,816.2 1907.8,816.0C1910.4,815.9 1913.2,812.6 1915.4,812.2C1917.7,811.9 1919.2,812.9 1921.2,814.1C1923.1,815.4 1925.1,819.8 1926.9,819.8C1928.6,819.8 1930.3,817.6 1931.6,814.1C1932.9,810.7 1933.0,804.9 1934.5,798.9C1935.9,792.9 1937.2,785.6 1940.2,778.0C1943.2,770.4 1949.3,759.9 1952.6,753.3C1956.0,746.6 1957.7,742.5 1960.2,738.1C1962.8,733.6 1965.1,729.3 1967.8,726.6C1970.5,723.9 1973.9,722.0 1976.4,721.9C1978.9,721.7 1981.0,723.0 1983.1,725.7C1985.1,728.4 1986.5,732.8 1988.8,738.1C1991.0,743.3 1993.8,751.4 1996.4,757.1C1998.9,762.8 2001.5,768.0 2004.0,772.3C2006.5,776.6 2009.5,780.7 2011.6,782.8C2013.7,784.8 2014.6,785.2 2016.4,784.7C2018.1,784.2 2020.2,782.9 2022.1,779.9C2024.0,776.9 2025.9,771.7 2027.8,766.6C2029.7,761.5 2031.6,753.8 2033.5,749.5C2035.4,745.2 2036.8,743.1 2039.2,740.9C2041.6,738.7 2044.7,738.4 2047.8,736.2C2050.8,733.9 2054.3,729.9 2057.3,727.6C2060.3,725.3 2062.7,723.4 2065.8,722.5C2069.0,721.5 2073.6,721.0 2076.3,721.9C2079.0,722.7 2080.1,725.5 2082.0,727.6C2083.9,729.7 2086.0,733.1 2087.7,734.3C2089.5,735.4 2090.6,735.2 2092.5,734.3C2094.4,733.3 2096.8,730.2 2099.1,728.5C2101.5,726.9 2103.9,724.6 2106.8,724.4C2109.6,724.1 2113.1,726.6 2116.3,727.0C2119.4,727.5 2122.9,727.7 2125.8,727.0C2128.6,726.3 2130.9,723.8 2133.4,722.8C2135.9,721.9 2137.5,721.3 2141.0,721.5C2144.5,721.7 2150.5,722.1 2154.3,723.8C2158.1,725.4 2160.7,728.4 2163.8,731.4C2167.0,734.4 2170.2,738.4 2173.4,741.9C2176.5,745.4 2179.7,748.2 2182.9,752.3C2186.0,756.5 2189.4,761.7 2192.4,766.6C2195.4,771.5 2198.6,777.9 2200.9,781.8C2203.3,785.8 2204.9,788.5 2206.7,790.4C2208.4,792.3 2210.0,793.1 2211.4,793.2C2212.8,793.4 2214.0,794.8 2215.2,791.3C2216.5,787.9 2217.8,779.0 2219.0,772.3C2220.3,765.7 2221.6,756.8 2222.8,751.4C2224.1,746.0 2225.4,742.2 2226.6,740.0C2227.9,737.7 2229.0,737.6 2230.4,738.1C2231.9,738.5 2233.6,740.0 2235.2,742.8C2236.8,745.7 2238.4,749.6 2240.0,755.2C2241.5,760.7 2243.1,768.5 2244.7,776.1C2246.3,783.7 2247.9,792.9 2249.5,800.9C2251.1,808.8 2252.6,816.7 2254.2,823.7C2255.8,830.7 2257.6,838.3 2259.0,842.7C2260.4,847.2 2261.4,850.0 2262.8,850.3C2264.2,850.7 2265.6,848.1 2267.5,844.6C2269.5,841.1 2271.8,834.8 2274.2,829.4C2276.6,824.0 2279.3,817.3 2281.8,812.3C2284.4,807.2 2287.2,803.1 2289.4,799.0C2291.7,794.8 2293.4,792.6 2295.1,787.5C2296.9,782.5 2298.5,774.5 2299.9,768.5C2301.3,762.5 2302.4,756.8 2303.7,751.4C2305.0,746.0 2306.1,740.6 2307.5,736.2C2308.9,731.7 2310.7,727.4 2312.3,724.7C2313.9,722.0 2315.6,721.1 2317.0,720.0C2318.5,718.9 2320.2,718.4 2320.8,718.1"/>
</g>
<line x1="2206.7" y1="1297.3" x2="2206.7" y2="234.9" stroke="#f4822a" stroke-width="9.0" stroke-linecap="round" fill="none" stroke-dasharray="33.8 45.5"/>
<g fill="none" stroke-linejoin="round" stroke-linecap="butt" stroke-width="9.4" stroke="#eb217c">
<path clip-path="url(#cl)" d="M160.5,499.5C162.8,498.5 170.1,495.2 174.7,493.7C179.3,492.3 183.9,491.7 188.1,490.9C192.2,490.1 195.0,489.9 199.5,489.0C203.9,488.0 210.3,486.1 214.7,485.2C219.1,484.2 223.1,484.0 226.1,483.3C229.1,482.6 230.4,480.5 232.8,481.0C235.2,481.5 236.4,485.1 240.4,486.1C244.4,487.2 252.3,487.3 256.6,487.1C260.8,486.9 262.3,485.0 266.1,484.8C269.9,484.6 275.3,486.1 279.4,486.1C283.5,486.2 287.3,485.0 290.8,485.2C294.3,485.3 297.8,486.9 300.3,487.1C302.9,487.3 303.7,486.0 306.0,486.5C308.4,487.0 311.4,490.3 314.6,489.9C317.8,489.6 321.1,484.9 325.1,484.2C329.0,483.6 334.0,485.7 338.4,486.1C342.8,486.6 347.3,486.9 351.7,487.1C356.2,487.3 360.9,487.6 365.0,487.5C369.2,487.3 372.6,485.7 376.5,486.1C380.3,486.5 384.4,488.4 387.9,489.9C391.4,491.5 394.5,493.0 397.4,495.7C400.2,498.3 402.8,501.2 405.0,506.1C407.2,511.0 409.1,517.9 410.7,525.1C412.3,532.4 413.2,540.4 414.5,549.9C415.8,559.4 417.2,572.1 418.3,582.2C419.4,592.4 420.2,601.9 421.2,610.8C422.1,619.7 423.1,628.9 424.0,635.5C425.0,642.2 425.9,647.9 426.9,650.7C427.8,653.6 428.8,653.3 429.7,652.6C430.7,652.0 431.6,651.7 432.6,646.9C433.5,642.2 434.5,630.4 435.4,624.1C436.4,617.8 437.3,611.9 438.3,608.9C439.2,605.9 440.2,605.4 441.2,606.0C442.1,606.7 442.9,608.4 444.0,612.7C445.1,617.0 446.4,626.6 447.8,631.7C449.2,636.8 450.7,639.0 452.6,643.1C454.5,647.3 457.3,652.3 459.2,656.5C461.1,660.6 462.4,665.5 464.0,667.9C465.6,670.2 467.2,670.9 468.7,670.7C470.3,670.6 471.9,667.4 473.5,666.9C475.1,666.4 476.5,666.4 478.3,667.9C480.0,669.3 482.4,672.3 484.0,675.5C485.6,678.7 486.5,682.1 487.8,686.9C489.0,691.7 490.5,700.1 491.6,704.0C492.7,708.0 493.5,710.4 494.4,710.7C495.4,711.0 496.2,709.9 497.3,705.9C498.4,702.0 500.0,692.1 501.1,686.9C502.2,681.7 502.7,677.1 503.9,674.5C505.2,672.0 506.2,671.7 508.7,671.7C511.2,671.7 515.8,673.3 519.2,674.5C522.5,675.8 525.5,677.1 528.7,679.3C531.9,681.5 536.1,685.9 538.2,687.8C540.3,689.8 539.0,689.0 541.4,690.7C543.9,692.4 548.4,694.8 552.8,698.3C557.3,701.8 563.0,707.5 568.1,711.6C573.1,715.8 578.2,719.7 583.3,723.1C588.4,726.4 593.4,729.1 598.5,731.6C603.6,734.2 608.7,736.5 613.7,738.3C618.8,740.0 623.9,741.1 629.0,742.1C634.0,743.1 639.1,744.2 644.2,744.4C649.3,744.5 654.3,743.9 659.4,743.0C664.5,742.2 669.5,740.7 674.6,739.2C679.7,737.8 684.8,736.5 689.8,734.5C694.9,732.4 700.0,729.7 705.1,726.9C710.1,724.0 714.6,721.0 720.3,717.3C726.0,713.7 733.0,709.4 739.3,705.0C745.7,700.5 752.0,695.1 758.4,690.7C764.7,686.3 771.0,682.0 777.4,678.3C783.7,674.7 790.1,671.8 796.4,668.8C802.8,665.8 809.1,663.3 815.4,660.3C821.8,657.2 828.1,654.7 834.5,650.7C840.8,646.8 847.2,641.9 853.5,636.5C859.8,631.1 866.2,624.3 872.5,618.4C878.9,612.5 885.2,607.1 891.6,601.3C897.9,595.4 905.0,588.1 910.6,583.2C916.2,578.3 920.2,575.7 925.2,571.8C930.2,567.8 935.4,563.4 940.4,559.4C945.5,555.4 950.6,551.8 955.7,548.0C960.7,544.2 965.8,540.1 970.9,536.6C976.0,533.1 981.0,530.2 986.1,527.1C991.2,523.9 996.3,520.4 1001.3,517.5C1006.4,514.7 1011.2,512.6 1016.6,509.9C1022.0,507.2 1028.3,503.3 1033.7,501.4C1039.1,499.5 1044.2,499.5 1048.9,498.5C1053.7,497.6 1058.1,497.2 1062.2,495.7C1066.4,494.1 1069.5,490.8 1073.7,489.4C1077.8,487.9 1079.4,487.4 1087.0,487.1C1094.6,486.8 1107.6,487.3 1119.3,487.5C1131.1,487.6 1144.7,488.0 1157.4,488.0C1170.1,488.0 1184.0,487.7 1195.4,487.5C1206.9,487.2 1220.8,486.8 1225.9,486.7"/>
<path clip-path="url(#cr)" d="M1253.8,488.0C1257.3,487.8 1268.4,486.5 1274.7,486.7C1281.1,486.9 1286.5,488.4 1291.9,489.4C1297.3,490.4 1302.3,489.7 1307.1,492.8C1311.8,495.9 1316.0,502.3 1320.4,508.0C1324.8,513.7 1329.6,519.8 1333.7,527.1C1337.9,534.3 1341.3,542.9 1345.1,551.8C1349.0,560.7 1353.1,572.1 1356.6,580.3C1360.1,588.6 1363.2,595.6 1366.1,601.3C1368.9,607.0 1371.5,611.7 1373.7,614.6C1375.9,617.4 1377.5,618.2 1379.4,618.4C1381.3,618.6 1383.2,618.1 1385.1,615.5C1387.0,613.0 1389.1,608.7 1390.8,603.2C1392.6,597.6 1394.0,590.2 1395.6,582.2C1397.2,574.3 1398.7,564.5 1400.3,555.6C1401.9,546.7 1403.5,536.6 1405.1,529.0C1406.7,521.3 1408.1,515.3 1409.8,509.9C1411.6,504.5 1413.3,499.9 1415.6,496.6C1417.8,493.3 1420.6,491.5 1423.2,489.9C1425.7,488.4 1427.3,487.6 1430.8,487.1C1434.3,486.5 1440.6,486.5 1444.1,486.7C1447.6,487.0 1448.5,488.2 1451.7,488.6C1454.9,489.0 1459.3,489.4 1463.1,489.0C1466.9,488.6 1469.5,486.6 1474.5,486.1C1479.6,485.7 1487.2,485.7 1493.6,486.1C1499.9,486.6 1506.9,488.1 1512.6,489.0C1518.3,489.8 1522.8,489.4 1527.8,491.3C1532.9,493.2 1538.0,497.5 1543.1,500.4C1548.1,503.4 1553.2,505.8 1558.3,509.0C1563.4,512.1 1568.4,514.8 1573.5,519.4C1578.6,524.0 1584.3,531.5 1588.7,536.6C1593.2,541.6 1596.3,544.5 1600.1,549.9C1603.9,555.3 1608.1,562.3 1611.6,568.9C1615.0,575.6 1617.9,582.6 1621.1,589.8C1624.2,597.1 1627.7,605.1 1630.6,612.7C1633.4,620.3 1635.8,627.3 1638.2,635.5C1640.6,643.8 1642.4,654.9 1644.9,662.2C1647.3,669.4 1650.6,672.1 1652.8,679.0C1655.1,686.0 1656.6,694.3 1658.5,703.8C1660.4,713.3 1662.4,725.0 1664.3,736.1C1666.2,747.2 1668.2,759.6 1670.0,770.4C1671.7,781.2 1673.1,791.9 1674.7,800.8C1676.3,809.7 1677.9,817.0 1679.5,823.7C1681.1,830.3 1682.0,836.0 1684.2,840.8C1686.5,845.5 1689.2,848.6 1692.8,852.2C1696.4,855.8 1701.4,859.7 1706.1,862.7C1710.9,865.7 1716.3,867.9 1721.3,870.3C1726.4,872.7 1731.5,874.6 1736.6,876.9C1741.6,879.3 1747.3,881.7 1751.8,884.5C1756.2,887.4 1759.4,890.6 1763.2,894.1C1767.0,897.6 1770.8,901.7 1774.6,905.5C1778.4,909.3 1782.6,913.9 1786.0,916.9C1789.5,919.9 1793.0,922.2 1795.6,923.6C1798.1,924.9 1799.0,925.2 1801.3,925.1C1803.5,924.9 1806.0,924.3 1808.9,922.6C1811.7,920.9 1815.2,917.8 1818.4,915.0C1821.6,912.1 1824.6,908.8 1827.9,905.5C1831.2,902.2 1836.0,899.5 1838.4,895.0C1840.8,890.6 1840.9,885.0 1842.2,878.8C1843.4,872.7 1844.7,862.7 1846.0,857.9C1847.3,853.1 1848.2,852.4 1849.8,850.3C1851.4,848.2 1854.1,848.7 1855.5,845.5C1856.9,842.4 1857.4,837.8 1858.4,831.3C1859.3,824.8 1860.1,816.0 1861.2,806.5C1862.3,797.0 1863.7,784.6 1865.0,774.2C1866.3,763.7 1867.6,752.6 1868.8,743.7C1870.1,734.8 1871.2,725.7 1872.6,720.9C1874.1,716.1 1875.6,715.2 1877.4,715.2C1879.1,715.2 1880.9,717.4 1883.1,720.9C1885.3,724.4 1888.2,731.7 1890.7,736.1C1893.2,740.6 1896.1,744.0 1898.3,747.5C1900.5,751.0 1902.4,755.0 1904.0,757.1C1905.6,759.1 1906.4,760.2 1907.8,759.9C1909.3,759.6 1911.2,757.2 1912.6,755.1C1914.0,753.1 1915.0,748.6 1916.4,747.5C1917.8,746.4 1919.7,747.9 1921.2,748.5C1922.6,749.1 1923.7,751.5 1925.0,751.3C1926.2,751.2 1927.7,752.3 1928.8,747.5C1929.9,742.8 1930.7,731.7 1931.6,722.8C1932.6,713.9 1933.5,703.1 1934.5,694.3C1935.4,685.4 1934.6,689.5 1937.3,669.5C1940.0,649.5 1947.5,595.5 1950.7,574.2C1953.9,552.9 1954.5,551.7 1956.4,541.8C1958.3,532.0 1960.2,522.5 1962.1,515.2C1964.0,507.9 1965.9,502.3 1967.8,498.1C1969.7,493.8 1972.0,491.1 1973.5,489.5C1975.1,487.9 1975.9,487.8 1977.4,488.5C1978.8,489.3 1980.7,490.4 1982.1,494.3C1983.5,498.1 1984.6,504.4 1985.9,511.4C1987.2,518.4 1988.3,526.9 1989.7,536.1C1991.1,545.3 1992.9,556.4 1994.5,566.6C1996.1,576.7 1997.6,587.8 1999.2,597.0C2000.8,606.2 2002.4,614.1 2004.0,621.8C2005.6,629.4 2007.3,637.0 2008.7,642.7C2010.2,648.4 2011.4,653.5 2012.6,656.0C2013.7,658.5 2014.3,658.5 2015.4,657.9C2016.5,657.3 2017.8,656.0 2019.2,652.2C2020.6,648.4 2022.4,642.4 2024.0,635.1C2025.6,627.8 2027.3,617.9 2028.7,608.4C2030.2,598.9 2031.3,587.8 2032.5,578.0C2033.8,568.2 2035.1,555.9 2036.3,549.4C2037.6,542.9 2038.2,541.7 2040.1,539.0C2042.1,536.3 2045.5,535.6 2047.8,533.3C2050.0,530.9 2051.6,528.7 2053.5,524.7C2055.4,520.7 2057.3,514.2 2059.2,509.5C2061.1,504.7 2063.0,499.5 2064.9,496.2C2066.8,492.8 2068.9,490.8 2070.6,489.5C2072.3,488.2 2073.9,487.8 2075.4,488.5C2076.8,489.3 2077.9,490.4 2079.2,494.3C2080.4,498.1 2081.7,506.1 2083.0,511.4C2084.2,516.6 2085.5,522.6 2086.8,525.7C2088.0,528.7 2089.1,529.5 2090.6,529.5C2092.0,529.5 2093.7,528.7 2095.3,525.7C2096.9,522.6 2098.3,516.0 2100.1,511.4C2101.8,506.8 2103.7,501.5 2105.8,498.1C2107.9,494.6 2110.1,492.1 2112.5,490.4C2114.8,488.8 2117.9,488.0 2120.1,488.2C2122.3,488.3 2123.9,490.7 2125.8,491.4C2127.7,492.1 2129.6,492.7 2131.5,492.4C2133.4,492.0 2135.3,490.2 2137.2,489.5C2139.1,488.8 2141.0,487.5 2142.9,488.2C2144.8,488.8 2146.7,491.0 2148.6,493.3C2150.5,495.6 2152.4,497.9 2154.3,501.9C2156.2,505.8 2157.8,511.4 2160.0,517.1C2162.3,522.8 2165.4,529.5 2167.6,536.1C2169.9,542.8 2171.1,549.4 2173.4,557.1C2175.6,564.7 2178.7,573.2 2181.0,581.8C2183.2,590.4 2184.8,599.5 2186.7,608.4C2188.6,617.3 2190.5,626.5 2192.4,635.1C2194.3,643.6 2196.3,651.9 2198.1,659.8C2199.8,667.7 2201.4,676.9 2202.8,682.6C2204.3,688.4 2205.4,691.8 2206.7,694.1C2207.9,696.3 2209.4,696.9 2210.5,696.0C2211.6,695.0 2212.4,693.4 2213.3,688.4C2214.3,683.3 2215.2,675.0 2216.2,665.5C2217.1,656.0 2218.1,643.3 2219.0,631.3C2220.0,619.2 2220.9,604.0 2221.9,593.2C2222.8,582.4 2223.8,572.9 2224.7,566.6C2225.7,560.2 2226.6,557.5 2227.6,555.1C2228.5,552.8 2229.5,552.0 2230.4,552.3C2231.4,552.6 2232.3,553.4 2233.3,557.1C2234.2,560.7 2235.0,565.6 2236.2,574.2C2237.3,582.7 2238.7,595.7 2240.0,608.4C2241.2,621.1 2242.5,637.0 2243.8,650.3C2245.0,663.6 2246.3,675.7 2247.6,688.4C2248.8,701.0 2250.1,714.4 2251.4,726.4C2252.6,738.5 2253.9,749.8 2255.2,760.7C2256.4,771.5 2257.9,783.7 2259.0,791.3C2260.1,799.0 2260.7,803.4 2261.8,806.6C2263.0,809.7 2264.4,810.4 2265.6,810.4C2266.9,810.4 2268.2,809.4 2269.5,806.6C2270.7,803.7 2272.0,799.0 2273.3,793.2C2274.5,787.5 2275.8,779.6 2277.1,772.3C2278.3,765.0 2279.4,756.8 2280.9,749.5C2282.3,742.2 2284.0,735.2 2285.6,728.5C2287.2,721.9 2289.1,714.6 2290.4,709.5C2291.7,704.4 2292.0,705.2 2293.2,697.9C2294.5,690.5 2296.6,678.2 2298.0,665.5C2299.4,652.8 2300.7,635.4 2301.8,621.8C2302.9,608.1 2303.7,596.4 2304.7,583.7C2305.6,571.0 2306.6,557.4 2307.5,545.6C2308.5,533.9 2309.4,521.8 2310.4,513.3C2311.3,504.7 2312.1,498.7 2313.2,494.3C2314.3,489.8 2315.8,488.4 2317.0,486.6C2318.3,484.9 2320.2,484.3 2320.8,483.8"/>
</g>
<g fill="none" stroke-linejoin="round" stroke-linecap="butt" stroke-width="9.4" stroke="#000000">
<path clip-path="url(#cl)" d="M160.5,265.1C162.8,264.6 170.1,263.0 174.7,262.2C179.3,261.4 184.7,260.4 188.1,260.3C191.4,260.2 190.3,262.3 194.7,261.8C199.2,261.4 208.5,258.6 214.7,257.5C220.9,256.3 227.4,254.9 231.8,255.2C236.3,255.4 235.3,258.6 241.3,259.0C247.4,259.4 259.7,257.6 268.0,257.6C276.2,257.6 285.7,258.3 290.8,259.0C295.9,259.7 296.1,261.8 298.4,261.8C300.8,261.8 302.6,258.9 305.1,259.0C307.6,259.0 309.7,262.4 313.7,262.2C317.6,262.0 324.1,257.8 328.9,257.6C333.6,257.5 337.8,261.3 342.2,261.4C346.6,261.6 351.4,258.7 355.5,258.4C359.6,258.1 363.1,259.6 366.9,259.5C370.7,259.5 374.5,257.8 378.4,258.0C382.2,258.2 386.3,259.3 389.8,260.9C393.3,262.5 396.6,264.8 399.3,267.5C402.0,270.2 404.0,272.9 405.9,277.1C407.8,281.2 409.3,286.2 410.7,292.3C412.1,298.3 413.2,305.0 414.5,313.2C415.8,321.5 417.0,332.2 418.3,341.8C419.6,351.3 421.0,363.3 422.1,370.3C423.2,377.3 424.1,380.9 425.0,383.6C425.9,386.3 426.5,386.8 427.5,386.5C428.4,386.2 429.5,385.7 430.7,381.7C431.9,377.7 433.4,369.3 434.5,362.7C435.6,356.0 436.2,346.5 437.3,341.8C438.5,337.0 439.7,334.5 441.2,334.1C442.6,333.8 444.3,337.8 445.9,339.8C447.5,341.9 448.6,345.4 450.7,346.5C452.7,347.6 455.7,345.9 458.3,346.5C460.8,347.1 463.7,350.5 465.9,350.3C468.1,350.2 469.9,347.1 471.6,345.6C473.3,344.0 474.6,341.1 476.4,340.8C478.1,340.5 480.5,341.3 482.1,343.7C483.7,346.0 484.6,349.4 485.9,355.1C487.1,360.8 488.6,371.6 489.7,377.9C490.8,384.2 491.7,390.0 492.5,393.1C493.3,396.3 493.6,397.3 494.4,396.9C495.2,396.6 496.3,395.7 497.3,391.2C498.2,386.8 499.2,377.0 500.1,370.3C501.1,363.6 501.9,355.4 503.0,351.3C504.1,347.1 504.4,346.2 506.8,345.6C509.2,344.9 513.6,346.5 517.3,347.5C520.9,348.4 525.2,349.7 528.7,351.3C532.2,352.9 536.1,355.5 538.2,357.0C540.3,358.4 538.3,358.1 541.4,359.8C544.5,361.6 550.6,365.1 556.6,367.4C562.7,369.8 571.9,371.7 577.6,374.1C583.3,376.5 586.1,380.1 590.9,381.7C595.7,383.3 601.0,382.8 606.1,383.6C611.2,384.4 615.0,386.1 621.3,386.5C627.7,386.9 637.2,387.0 644.2,385.9C651.2,384.8 656.2,382.4 663.2,379.8C670.2,377.2 679.7,373.5 686.0,370.3C692.4,367.1 695.6,364.9 701.3,360.8C707.0,356.7 715.5,349.8 720.3,345.6C725.1,341.3 724.1,339.7 729.8,335.1C735.5,330.5 747.3,322.9 754.5,318.0C761.8,313.0 767.6,309.4 773.6,305.6C779.6,301.8 784.4,297.5 790.7,295.1C797.0,292.7 805.3,292.7 811.6,291.3C818.0,289.9 823.7,288.3 828.8,286.6C833.8,284.8 837.3,282.6 842.1,280.9C846.8,279.1 853.2,277.8 857.3,276.1C861.4,274.4 862.4,271.8 866.8,270.4C871.3,269.0 878.2,269.0 883.9,267.5C889.7,266.1 895.0,263.1 901.1,261.8C907.1,260.6 913.9,260.4 920.1,259.9C926.3,259.4 930.1,259.3 938.5,259.0C947.0,258.7 963.0,257.9 970.9,258.0C978.8,258.1 977.2,259.4 986.1,259.5C995.0,259.7 1011.5,258.9 1024.2,259.0C1036.9,259.0 1049.5,259.6 1062.2,259.9C1074.9,260.2 1087.6,261.0 1100.3,260.9C1113.0,260.7 1127.9,258.8 1138.4,259.0C1148.8,259.1 1155.2,261.8 1163.1,261.8C1171.0,261.8 1175.5,259.4 1185.9,259.0C1196.4,258.5 1219.2,259.0 1225.9,259.0"/>
<path clip-path="url(#cr)" d="M1253.8,259.5C1262.4,259.4 1293.1,257.2 1305.2,259.0C1317.2,260.8 1320.1,266.3 1326.1,270.4C1332.1,274.5 1335.9,278.5 1341.3,283.7C1346.7,288.9 1353.7,297.0 1358.5,301.8C1363.2,306.5 1367.0,310.2 1369.9,312.3C1372.7,314.3 1373.4,314.3 1375.6,314.2C1377.8,314.0 1380.7,313.4 1383.2,311.3C1385.7,309.2 1388.3,306.4 1390.8,301.8C1393.4,297.2 1395.9,288.9 1398.4,283.7C1401.0,278.5 1403.2,274.0 1406.0,270.4C1408.9,266.7 1412.1,263.8 1415.6,261.8C1419.0,259.8 1422.9,258.9 1427.0,258.4C1431.1,257.9 1435.4,257.9 1440.3,258.6C1445.2,259.3 1450.8,262.6 1456.5,262.8C1462.2,262.9 1467.7,259.9 1474.5,259.5C1481.4,259.2 1490.4,261.1 1497.4,260.9C1504.4,260.7 1510.1,258.7 1516.4,258.4C1522.8,258.1 1528.5,259.1 1535.4,259.0C1542.4,258.8 1552.3,257.6 1558.3,257.6C1564.3,257.6 1567.8,257.6 1571.6,259.0C1575.4,260.3 1577.0,263.4 1581.1,265.6C1585.2,267.9 1591.3,269.1 1596.3,272.3C1601.4,275.5 1607.1,280.4 1611.6,284.7C1616.0,288.9 1619.5,292.9 1623.0,298.0C1626.5,303.1 1629.3,308.8 1632.5,315.1C1635.7,321.5 1638.9,329.1 1642.0,336.0C1645.1,343.0 1648.2,349.4 1650.9,357.0C1653.7,364.6 1656.0,371.9 1658.5,381.7C1661.1,391.5 1663.6,404.5 1666.2,416.0C1668.7,427.4 1671.7,438.3 1673.8,450.2C1675.8,462.1 1676.9,477.8 1678.5,487.5C1680.1,497.2 1681.5,501.5 1683.3,508.5C1685.0,515.4 1686.8,522.4 1689.0,529.4C1691.2,536.4 1693.7,544.0 1696.6,550.3C1699.5,556.7 1702.6,562.5 1706.1,567.5C1709.6,572.4 1713.7,576.3 1717.5,579.8C1721.3,583.3 1725.8,586.2 1729.0,588.4C1732.1,590.6 1733.4,590.8 1736.6,593.1C1739.7,595.5 1744.2,599.7 1748.0,602.7C1751.8,605.7 1756.2,608.4 1759.4,611.2C1762.6,614.1 1764.5,616.9 1767.0,619.8C1769.5,622.6 1771.8,626.3 1774.6,628.4C1777.5,630.4 1781.0,630.7 1784.1,632.2C1787.3,633.6 1790.8,635.8 1793.7,636.9C1796.5,638.0 1798.1,638.7 1801.3,638.8C1804.4,639.0 1809.2,638.7 1812.7,637.9C1816.2,637.1 1819.3,635.3 1822.2,634.1C1825.1,632.8 1827.4,631.4 1829.8,630.3C1832.2,629.1 1834.9,629.6 1836.5,627.4C1838.1,625.2 1838.2,621.5 1839.3,616.9C1840.4,612.3 1841.9,605.2 1843.1,599.8C1844.4,594.4 1845.2,588.7 1846.9,584.6C1848.7,580.5 1851.9,579.2 1853.6,575.1C1855.3,570.9 1856.3,566.2 1857.4,559.8C1858.5,553.5 1859.3,544.6 1860.3,537.0C1861.2,529.4 1861.8,526.1 1863.1,514.2C1864.4,502.2 1866.3,481.5 1867.9,465.4C1869.5,449.4 1871.0,433.7 1872.6,417.9C1874.2,402.0 1875.8,385.2 1877.4,370.3C1879.0,355.4 1880.6,341.1 1882.1,328.4C1883.7,315.7 1885.3,304.0 1886.9,294.2C1888.5,284.3 1890.2,275.1 1891.7,269.4C1893.1,263.7 1894.2,261.8 1895.5,259.9C1896.7,258.1 1898.0,257.8 1899.3,258.4C1900.5,259.0 1901.8,260.3 1903.1,263.7C1904.3,267.2 1905.6,275.0 1906.9,279.0C1908.1,282.9 1909.3,285.8 1910.7,287.5C1912.1,289.3 1914.0,287.0 1915.4,289.4C1916.9,291.8 1918.1,295.9 1919.2,301.8C1920.4,307.7 1921.2,317.3 1922.1,324.6C1923.1,331.9 1924.0,341.0 1925.0,345.6C1925.9,350.2 1926.7,352.2 1927.8,352.2C1928.9,352.2 1930.5,349.2 1931.6,345.6C1932.7,341.9 1933.5,334.3 1934.5,330.3C1935.4,326.4 1936.2,323.5 1937.3,321.8C1938.4,320.0 1939.7,319.4 1941.1,319.9C1942.6,320.3 1944.1,322.2 1945.9,324.6C1947.6,327.0 1949.1,331.0 1951.6,334.1C1954.1,337.3 1957.9,340.6 1961.1,343.7C1964.3,346.7 1967.8,349.0 1970.6,352.2C1973.5,355.4 1975.4,358.7 1978.2,362.7C1981.1,366.6 1984.3,372.7 1987.8,376.0C1991.2,379.3 1995.8,380.4 1999.2,382.7C2002.5,384.9 2005.5,387.7 2007.7,389.3C2010.0,390.9 2010.7,392.8 2012.5,392.2C2014.2,391.5 2016.2,389.5 2018.3,385.5C2020.3,381.6 2022.5,374.7 2024.9,368.4C2027.3,362.0 2029.4,355.1 2032.5,347.5C2035.7,339.8 2040.5,330.0 2044.0,322.7C2047.4,315.4 2050.6,309.4 2053.5,303.7C2056.3,298.0 2058.5,292.4 2061.1,288.5C2063.6,284.5 2066.5,281.7 2068.7,279.9C2070.9,278.1 2072.5,277.5 2074.4,277.6C2076.3,277.8 2078.4,278.4 2080.1,280.9C2081.9,283.3 2083.4,289.4 2084.9,292.3C2086.3,295.1 2087.1,297.2 2088.7,298.0C2090.3,298.8 2092.0,298.6 2094.4,297.0C2096.8,295.4 2100.2,290.7 2102.9,288.5C2105.6,286.2 2107.1,285.1 2110.6,283.7C2114.0,282.3 2120.4,281.3 2123.9,279.9C2127.4,278.5 2129.0,277.4 2131.5,275.1C2134.0,272.9 2136.2,269.1 2139.1,266.6C2142.0,264.0 2145.4,261.2 2148.6,259.9C2151.8,258.7 2155.3,259.0 2158.1,259.0C2161.0,259.0 2163.5,258.8 2165.7,259.9C2168.0,261.0 2169.2,262.5 2171.5,265.6C2173.7,268.8 2176.5,272.9 2179.1,279.0C2181.6,285.0 2184.1,293.5 2186.7,301.8C2189.2,310.0 2192.1,320.2 2194.3,328.4C2196.5,336.7 2198.3,344.6 2200.0,351.3C2201.7,357.9 2203.3,364.9 2204.8,368.4C2206.2,371.9 2207.3,371.9 2208.6,372.2C2209.8,372.5 2211.1,373.8 2212.4,370.3C2213.6,366.8 2215.1,359.2 2216.2,351.3C2217.3,343.3 2218.1,332.2 2219.0,322.7C2220.0,313.2 2220.9,302.1 2221.9,294.2C2222.8,286.2 2223.6,279.5 2224.7,275.1C2225.8,270.8 2227.3,268.9 2228.5,267.9C2229.8,267.0 2231.1,267.3 2232.3,269.4C2233.6,271.6 2234.9,276.1 2236.2,280.9C2237.4,285.6 2238.7,291.0 2240.0,298.0C2241.2,305.0 2242.5,313.8 2243.8,322.7C2245.0,331.6 2246.6,341.8 2247.6,351.3C2248.5,360.8 2248.7,368.7 2249.5,379.8C2250.3,390.9 2251.2,406.1 2252.3,417.9C2253.4,429.6 2254.9,440.9 2256.1,450.2C2257.4,459.6 2258.9,469.4 2259.9,474.0C2261.0,478.6 2261.3,479.6 2262.4,477.8C2263.5,476.1 2264.9,467.5 2266.6,463.5C2268.2,459.6 2270.7,458.8 2272.3,454.0C2273.9,449.3 2274.8,440.1 2276.1,435.0C2277.4,429.9 2278.0,426.7 2279.9,423.6C2281.8,420.4 2285.6,419.5 2287.5,416.0C2289.4,412.5 2290.1,407.7 2291.3,402.6C2292.6,397.6 2293.7,390.3 2295.1,385.5C2296.6,380.8 2298.6,379.8 2299.9,374.1C2301.2,368.4 2301.8,361.4 2302.8,351.3C2303.7,341.1 2304.7,325.3 2305.6,313.2C2306.6,301.2 2307.7,287.5 2308.5,279.0C2309.3,270.4 2309.6,265.5 2310.4,261.8C2311.2,258.2 2311.5,258.2 2313.2,257.1C2315.0,256.0 2319.6,255.5 2320.8,255.2"/>
</g>
<g stroke="#000" fill="#000" stroke-linecap="round">
<line x1="450.7" y1="352.2" x2="488.4" y2="420.2" stroke-width="5.5"/>
<polygon points="509.7,458.7 477.9,426.0 498.9,414.4" stroke="#000" stroke-width="1.5" stroke-linejoin="round"/>
<line x1="464.0" y1="798.0" x2="491.7" y2="859.7" stroke-width="5.5"/>
<polygon points="509.7,899.8 480.7,864.6 502.6,854.7" stroke="#000" stroke-width="1.5" stroke-linejoin="round"/>
<line x1="417.4" y1="1224.2" x2="373.8" y2="1267.4" stroke-width="5.5"/>
<polygon points="342.6,1298.4 365.4,1258.9 382.3,1275.9" stroke="#000" stroke-width="1.5" stroke-linejoin="round"/>
<line x1="457.3" y1="1253.7" x2="457.0" y2="1347.7" stroke-width="5.5"/>
<polygon points="456.8,1391.7 445.0,1347.7 469.0,1347.7" stroke="#000" stroke-width="1.5" stroke-linejoin="round"/>
<line x1="496.3" y1="1292.7" x2="557.7" y2="1335.9" stroke-width="5.5"/>
<polygon points="593.7,1361.2 550.8,1345.7 564.6,1326.1" stroke="#000" stroke-width="1.5" stroke-linejoin="round"/>
<line x1="1795.9" y1="353.1" x2="1716.0" y2="270.7" stroke-width="5.5"/>
<polygon points="1685.4,239.1 1724.6,262.3 1707.4,279.0" stroke="#000" stroke-width="1.5" stroke-linejoin="round"/>
<line x1="2200.9" y1="243.0" x2="2137.4" y2="193.1" stroke-width="5.5"/>
<polygon points="2102.8,165.9 2144.8,183.7 2130.0,202.5" stroke="#000" stroke-width="1.5" stroke-linejoin="round"/>
<line x1="2264.5" y1="275.8" x2="2240.8" y2="208.6" stroke-width="5.5"/>
<polygon points="2226.1,167.1 2252.1,204.6 2229.4,212.6" stroke="#000" stroke-width="1.5" stroke-linejoin="round"/>
<line x1="1907.8" y1="1390.8" x2="1907.8" y2="1470.5" stroke-width="5.5"/>
<polygon points="1907.8,1514.5 1895.8,1470.5 1919.8,1470.5" stroke="#000" stroke-width="1.5" stroke-linejoin="round"/>
<line x1="2023.0" y1="1297.0" x2="2075.8" y2="1350.4" stroke-width="5.5"/>
<polygon points="2106.7,1381.7 2067.2,1358.8 2084.3,1342.0" stroke="#000" stroke-width="1.5" stroke-linejoin="round"/>
</g>
<line x1="1801.3" y1="1564.3" x2="1801.3" y2="349.1" stroke="#f4822a" stroke-width="9.0" stroke-linecap="round" fill="none" stroke-dasharray="33.8 45.5"/>
<line x1="2265.6" y1="1437.2" x2="2265.6" y2="293.0" stroke="#f4822a" stroke-width="9.0" stroke-linecap="round" fill="none" stroke-dasharray="33.8 45.5"/>
<text class="tk" x="160.5" y="1780.6" style="font-size:86px">4000</text>
<text class="tk" x="601.9" y="1780.6" style="font-size:86px">3500</text>
<text class="tk" x="1043.3" y="1780.6" style="font-size:86px">3000</text>
<text class="tk" x="1483.9" y="1780.6" style="font-size:86px">1500</text>
<text class="tk" x="1862.6" y="1780.6" style="font-size:86px">1000</text>
<text class="tk" x="2241.3" y="1780.6" style="font-size:86px">500</text>
<text x="884.5" y="1900.8" style="font-size:94.5px;font-weight:bold;letter-spacing:-0.5px;text-anchor:start;stroke:none">Wavenumber(cm<tspan dy="-45.5" dx="2.5" style="font-size:57px">-</tspan><tspan dx="-0.5" style="font-size:57px">1</tspan><tspan dy="45.5" dx="1.5">)</tspan></text>
<text transform="translate(85.6 1089.6) rotate(-90)" x="0" y="0" style="font-size:94.5px;font-weight:bold;letter-spacing:-0.1px;text-anchor:start;stroke:none">Transmittance</text>
<text class="an" x="538.7" y="551.8" style="font-size:86px" >3672</text>
<text class="an" x="556.5" y="976.8" style="font-size:86px" >3652</text>
<text class="an" x="283.5" y="1391.0" style="font-size:86px" >3697</text>
<text class="an" x="444.0" y="1477.0" style="font-size:86px" >3663</text>
<text class="an" x="664.0" y="1437.3" style="font-size:86px" >3622</text>
<text class="an" x="1648.0" y="220.4" style="font-size:86px" >1084</text>
<text class="an" x="2028.5" y="159.4" style="font-size:86px" >542</text>
<text class="an" x="2206.0" y="154.8" style="font-size:86px" >471</text>
<text class="an" x="1932.0" y="1601.0" style="font-size:87.5px" >946</text>
<text class="an" x="2112.5" y="1470.4" style="font-size:87.5px" >911</text>
<text class="an" x="1144.6" y="203.7" style="font-size:103.5px" >(a)</text>
<text class="an" x="1148.8" y="416.9" style="font-size:103.5px" >(b)</text>
<text class="an" x="1149.1" y="657.4" style="font-size:103.5px" >(c)</text>
<text class="an" x="1154.1" y="871.8" style="font-size:103.5px" >(d)</text>
<text class="an" x="1148.0" y="1100.0" style="font-size:101px" >(e)</text>
</svg></body></html>
